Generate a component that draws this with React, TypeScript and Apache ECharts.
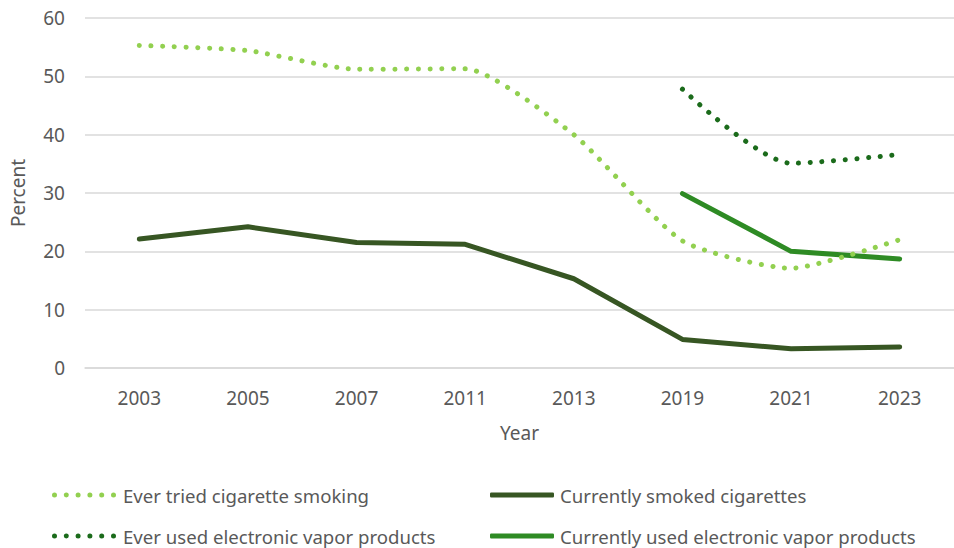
import React, { useEffect, useRef } from "react";
import * as echarts from "echarts";

const years = ["2003", "2005", "2007", "2011", "2013", "2019", "2021", "2023"];
const everTriedCig = [55.3, 54.4, 51.2, 51.3, 40.0, 21.8, 17.1, 22.0];
const currentCig = [22.1, 24.2, 21.5, 21.2, 15.3, 4.9, 3.3, 3.6];
const everEvp = [null, null, null, null, null, 47.8, 35.1, 36.6];
const currentEvp = [null, null, null, null, null, 29.9, 20.0, 18.7];

const seriesNames = [
  "Ever tried cigarette smoking",
  "Currently smoked cigarettes",
  "Ever used electronic vapor products",
  "Currently used electronic vapor products",
];

const FONT = "'Noto Sans', sans-serif";
const TXT = "#595959";

function dotsPath(): string {
  let d = "";
  for (let i = 0; i < 6; i++) {
    const cx = 2.5 + i * 11.8;
    d += `M${cx - 2.5},2.5a2.5,2.5 0 1,0 5,0a2.5,2.5 0 1,0 -5,0Z`;
  }
  return "path://" + d + "M64,0M0,5";
}

export default function App() {
  const ref = useRef<HTMLDivElement>(null);
  useEffect(() => {
    document.body.style.margin = "0";
    const chart = echarts.init(ref.current!, null, { renderer: "svg" });
    const dotted = (color: string) => ({
      color,
      width: 5,
      type: [0.1, 11.6],
      cap: "round",
    });
    const legendItem = (name: string, left: number, top: number, icon: string, pad: number) => ({
      data: [{ name, icon }],
      left,
      top,
      padding: 0,
      itemWidth: 64,
      itemHeight: 5,
      selectedMode: false,
      textStyle: {
        color: TXT,
        fontSize: 18.6,
        lineHeight: 20,
        fontFamily: FONT,
        padding: [0, 0, 0, pad],
      },
    });
    chart.setOption({
      animation: false,
      textStyle: { fontFamily: FONT },
      grid: { left: 83, top: 18, width: 880, bottom: 180 },
      legend: [
        legendItem(seriesNames[0], 52, 485, dotsPath(), 2),
        legendItem(seriesNames[1], 490, 485, "roundRect", 1),
        legendItem(seriesNames[2], 52, 526, dotsPath(), 2),
        legendItem(seriesNames[3], 490, 526, "roundRect", 1),
      ],
      xAxis: {
        type: "category",
        data: years,
        boundaryGap: true,
        name: "Year",
        nameLocation: "middle",
        nameGap: 55,
        nameTextStyle: { color: TXT, fontSize: 19, fontFamily: FONT },
        axisLine: { show: true, lineStyle: { color: "#D9D9D9", width: 1.5 } },
        axisTick: { show: false },
        axisLabel: { color: TXT, fontSize: 19, fontFamily: FONT, margin: 20 },
      },
      yAxis: {
        type: "value",
        min: 0,
        max: 60,
        interval: 10,
        name: "Percent",
        nameLocation: "middle",
        nameGap: 58,
        nameRotate: 90,
        nameTextStyle: { color: TXT, fontSize: 19, fontFamily: FONT },
        axisLine: { show: false },
        axisTick: { show: false },
        splitLine: { lineStyle: { color: "#D9D9D9", width: 1.5 } },
        axisLabel: { color: TXT, fontSize: 19, fontFamily: FONT, margin: 20 },
      },
      series: [
        {
          name: seriesNames[0],
          type: "line",
          data: everTriedCig,
          smooth: 0.2,
          symbol: "none",
          color: "#92D050",
          lineStyle: dotted("#92D050"),
          z: 3,
        },
        {
          name: seriesNames[1],
          type: "line",
          data: currentCig,
          symbol: "none",
          color: "#375623",
          lineStyle: { color: "#375623", width: 5, cap: "round", join: "round" },
          z: 2,
        },
        {
          name: seriesNames[2],
          type: "line",
          data: everEvp,
          smooth: 0.25,
          symbol: "none",
          color: "#1B6B1B",
          lineStyle: dotted("#1B6B1B"),
          z: 3,
        },
        {
          name: seriesNames[3],
          type: "line",
          data: currentEvp,
          symbol: "none",
          color: "#2E8B24",
          lineStyle: { color: "#2E8B24", width: 5, cap: "round", join: "round" },
          z: 2,
        },
      ],
    });
    return () => chart.dispose();
  }, []);
  return <div ref={ref} style={{ width: 954, height: 548 }} />;
}
